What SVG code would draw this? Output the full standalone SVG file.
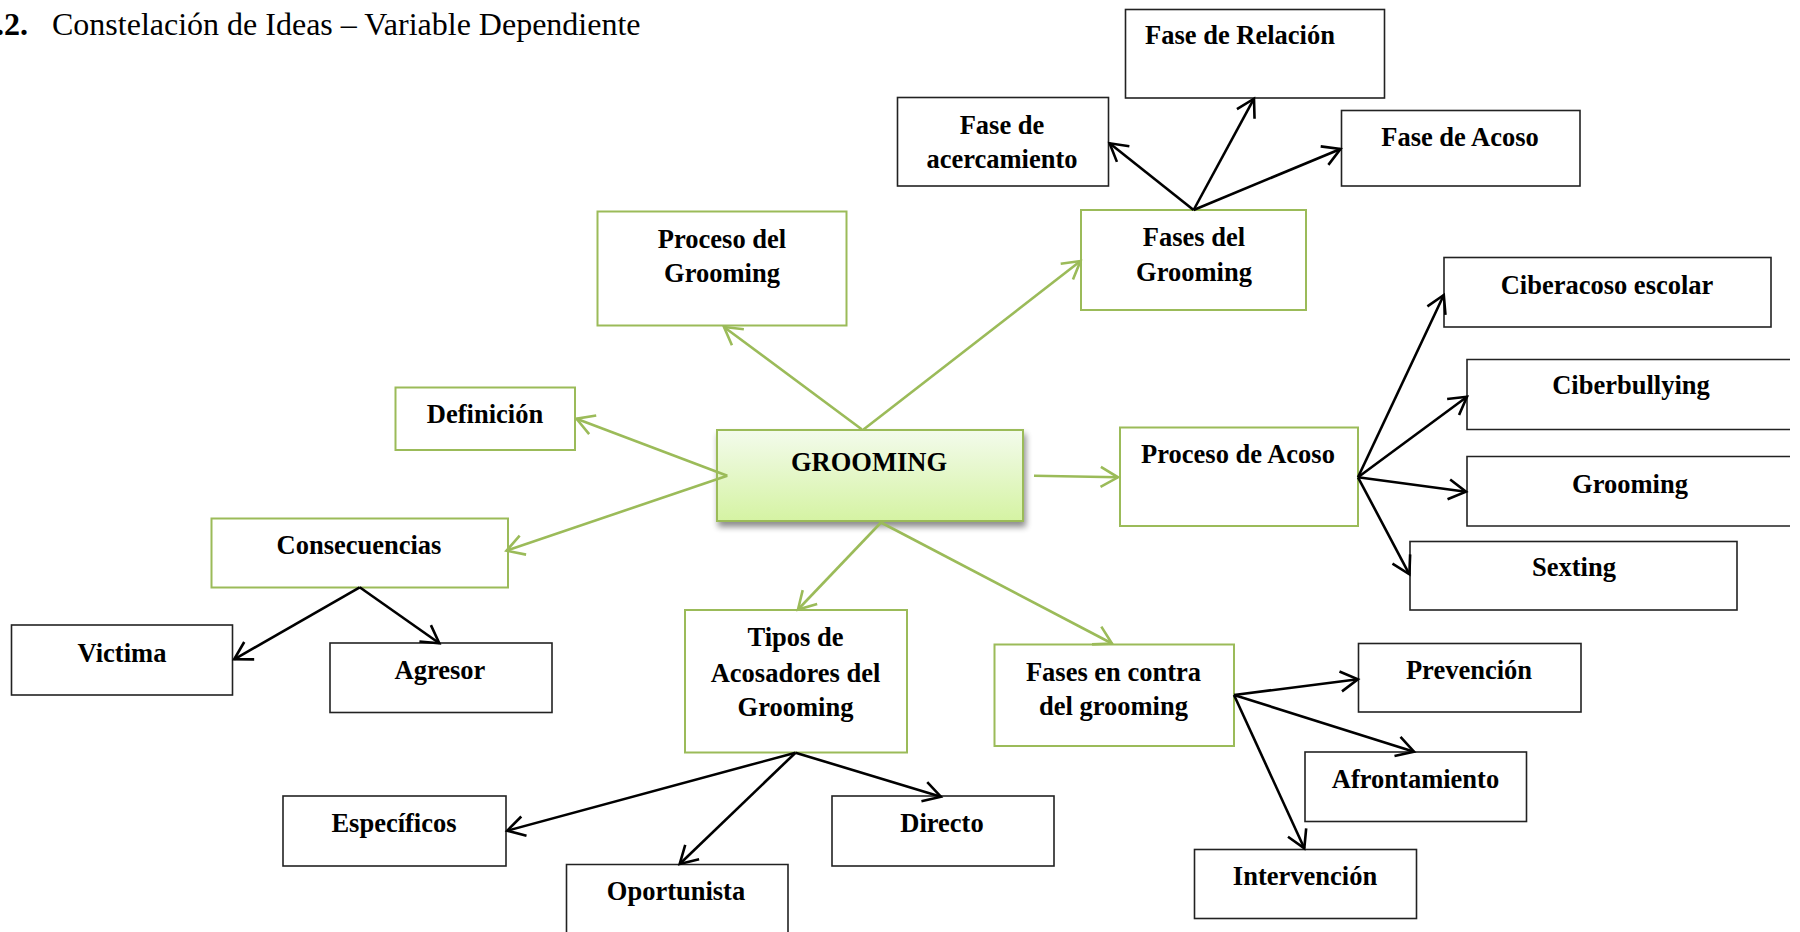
<svg xmlns="http://www.w3.org/2000/svg" width="1800" height="932" viewBox="0 0 1800 932">
<defs>
<style>
.gbox{fill:#fff;stroke:#9BBB59;stroke-width:2}
.bbox{fill:#fff;stroke:#222;stroke-width:1.6}
.lbl{font-family:"Liberation Serif","Times New Roman",serif;font-weight:bold;font-size:26.5px;fill:#000;text-anchor:middle}
.title{font-family:"Liberation Serif","Times New Roman",serif;font-size:32px;fill:#000}
.gl{stroke:#9BBB59;stroke-width:2.6;fill:none;marker-end:url(#ag)}
.bl{stroke:#000;stroke-width:2.6;fill:none;marker-end:url(#ab)}
</style>
<marker id="ag" markerUnits="userSpaceOnUse" viewBox="-22 -13 26 26" refX="0" refY="0" markerWidth="26" markerHeight="26" orient="auto">
<path d="M-17.3,-10 L0,0 L-17.3,10" fill="none" stroke="#9BBB59" stroke-width="2.6"/>
</marker>
<marker id="ab" markerUnits="userSpaceOnUse" viewBox="-22 -13 26 26" refX="0" refY="0" markerWidth="26" markerHeight="26" orient="auto">
<path d="M-17.3,-10 L0,0 L-17.3,10" fill="none" stroke="#000" stroke-width="2.6"/>
</marker>
<linearGradient id="cg" x1="0" y1="0" x2="0" y2="1">
<stop offset="0" stop-color="#F3FBEC"/>
<stop offset="1" stop-color="#D5F3A3"/>
</linearGradient>
<filter id="sh" x="-10%" y="-10%" width="130%" height="140%">
<feGaussianBlur in="SourceAlpha" stdDeviation="3"/>
<feOffset dx="2" dy="5" result="b"/>
<feComponentTransfer><feFuncA type="linear" slope="0.45"/></feComponentTransfer>
<feMerge><feMergeNode/><feMergeNode in="SourceGraphic"/></feMerge>
</filter>
</defs>
<rect width="1800" height="932" fill="#fff"/>
<g id="title">
<text class="title" x="-4" y="35"><tspan font-weight="bold">.2.</tspan><tspan x="52">Constelación de Ideas – Variable Dependiente</tspan></text>
</g>

<g id="n-proceso-grooming"><rect class="gbox" x="597.5" y="211.5" width="249" height="114"/><text class="lbl" x="722" y="248">Proceso del</text><text class="lbl" x="722" y="282">Grooming</text></g>
<g id="n-fases-grooming"><rect class="gbox" x="1081" y="210" width="225" height="100"/><text class="lbl" x="1194" y="246">Fases del</text><text class="lbl" x="1194" y="281">Grooming</text></g>
<g id="n-definicion"><rect class="gbox" x="395.5" y="387.5" width="179.5" height="62.5"/><text class="lbl" x="485" y="423">Definición</text></g>
<g id="n-grooming"><rect x="717" y="430" width="306" height="91" fill="url(#cg)" stroke="#9BBB59" stroke-width="2" filter="url(#sh)"/><text class="lbl" x="869" y="471">GROOMING</text></g>
<g id="n-proceso-acoso"><rect class="gbox" x="1120" y="427.5" width="238" height="98.5"/><text class="lbl" x="1238" y="463">Proceso de Acoso</text></g>
<g id="n-consecuencias"><rect class="gbox" x="211.5" y="518.5" width="296.5" height="69"/><text class="lbl" x="359" y="554">Consecuencias</text></g>
<g id="n-tipos"><rect class="gbox" x="685" y="610" width="222" height="142.5"/><text class="lbl" x="795.5" y="646">Tipos de</text><text class="lbl" x="795.5" y="682">Acosadores del</text><text class="lbl" x="795.5" y="716">Grooming</text></g>
<g id="n-fases-contra"><rect class="gbox" x="994.5" y="644.5" width="239.5" height="101.5"/><text class="lbl" x="1113.5" y="681">Fases en contra</text><text class="lbl" x="1113.5" y="715">del grooming</text></g>

<g id="n-fase-relacion"><rect class="bbox" x="1125.5" y="9.5" width="259" height="88.5"/><text class="lbl" x="1240" y="44">Fase de Relación</text></g>
<g id="n-fase-acercamiento"><rect class="bbox" x="897.5" y="97.5" width="211" height="88.5"/><text class="lbl" x="1002" y="134">Fase de</text><text class="lbl" x="1002" y="168">acercamiento</text></g>
<g id="n-fase-acoso"><rect class="bbox" x="1341.5" y="110.5" width="238.5" height="75.5"/><text class="lbl" x="1460" y="146">Fase de Acoso</text></g>
<g id="n-ciberacoso"><rect class="bbox" x="1444" y="257.5" width="327" height="69.5"/><text class="lbl" x="1607" y="294">Ciberacoso escolar</text></g>
<g id="n-ciberbullying"><path class="bbox" d="M1790,359.5 H1467 V429.5 H1790"/><text class="lbl" x="1631" y="394">Ciberbullying</text></g>
<g id="n-grooming-r"><path class="bbox" d="M1790,456.5 H1467 V526 H1790"/><text class="lbl" x="1630" y="493">Grooming</text></g>
<g id="n-sexting"><rect class="bbox" x="1410" y="541.5" width="327" height="68.5"/><text class="lbl" x="1574" y="576">Sexting</text></g>
<g id="n-victima"><rect class="bbox" x="11.5" y="625" width="221" height="70"/><text class="lbl" x="122" y="662">Victima</text></g>
<g id="n-agresor"><rect class="bbox" x="330" y="643" width="222" height="69.5"/><text class="lbl" x="440" y="679">Agresor</text></g>
<g id="n-especificos"><rect class="bbox" x="283" y="796" width="223" height="70"/><text class="lbl" x="394" y="832">Específicos</text></g>
<g id="n-oportunista"><path class="bbox" d="M566.5,934 V864.5 H788 V934"/><text class="lbl" x="676" y="900">Oportunista</text></g>
<g id="n-directo"><rect class="bbox" x="832" y="796" width="222" height="70"/><text class="lbl" x="942" y="832">Directo</text></g>
<g id="n-prevencion"><rect class="bbox" x="1358.5" y="643.5" width="222.5" height="68.5"/><text class="lbl" x="1469" y="679">Prevención</text></g>
<g id="n-afrontamiento"><rect class="bbox" x="1305" y="752" width="221.5" height="69.5"/><text class="lbl" x="1415.5" y="788">Afrontamiento</text></g>
<g id="n-intervencion"><rect class="bbox" x="1194.5" y="849.5" width="222" height="69"/><text class="lbl" x="1305" y="885">Intervención</text></g>

<g id="connectors">
<line class="gl" x1="862" y1="429.5" x2="724" y2="327"/>
<line class="gl" x1="863.5" y1="429.5" x2="1080.5" y2="261"/>
<line class="gl" x1="727.3" y1="475.7" x2="576.5" y2="418.7"/>
<line class="gl" x1="727.3" y1="475.7" x2="506.5" y2="550.7"/>
<line class="gl" x1="1034" y1="475.7" x2="1118" y2="477.3"/>
<line class="gl" x1="881" y1="522.5" x2="798" y2="609.5"/>
<line class="gl" x1="881" y1="522.5" x2="1112" y2="643.5"/>

<line class="bl" x1="1193.6" y1="210" x2="1109.6" y2="143.3"/>
<line class="bl" x1="1193.6" y1="210" x2="1254" y2="98.7"/>
<line class="bl" x1="1193.6" y1="210" x2="1340.5" y2="149"/>
<line class="bl" x1="1358" y1="477.3" x2="1443.8" y2="295"/>
<line class="bl" x1="1358" y1="477.3" x2="1467" y2="396.7"/>
<line class="bl" x1="1358" y1="477.3" x2="1466" y2="491.7"/>
<line class="bl" x1="1358" y1="477.3" x2="1409.4" y2="574.3"/>
<line class="bl" x1="359.7" y1="587.3" x2="234.2" y2="659.3"/>
<line class="bl" x1="359.7" y1="587.3" x2="439.3" y2="643.3"/>
<line class="bl" x1="795.5" y1="752.7" x2="507.2" y2="830.7"/>
<line class="bl" x1="795.5" y1="752.7" x2="679.7" y2="864"/>
<line class="bl" x1="795.5" y1="752.7" x2="940.9" y2="796.7"/>
<line class="bl" x1="1234" y1="695" x2="1357.9" y2="679.3"/>
<line class="bl" x1="1234" y1="695" x2="1414" y2="751.7"/>
<line class="bl" x1="1234" y1="695" x2="1304.3" y2="848.3"/>
</g>
</svg>
